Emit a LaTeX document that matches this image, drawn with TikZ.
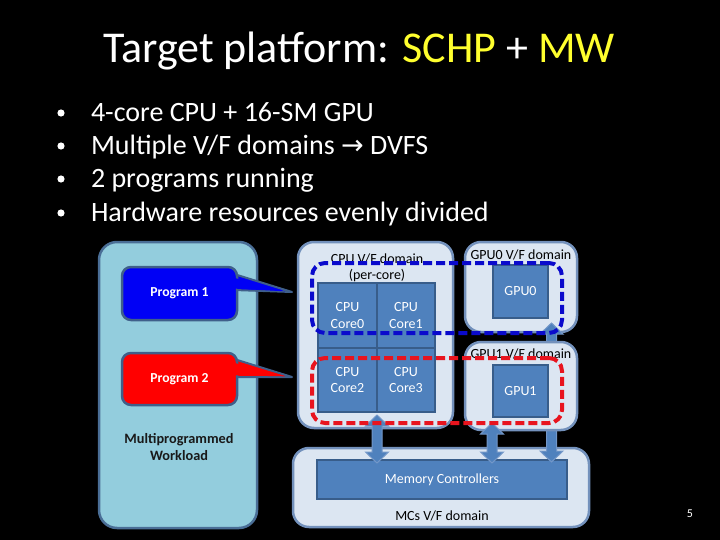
\documentclass[tikz,border=0pt]{standalone}
\usepackage{fontspec}
\setmainfont{Carlito}
\newfontfamily\dejavu{DejaVu Sans}
\usetikzlibrary{calc}
\definecolor{ttlyellow}{HTML}{FFFF2E}
\definecolor{workfill}{HTML}{93CDDD}
\definecolor{workdraw}{HTML}{4A6E96}
\definecolor{progblue}{HTML}{0000F5}
\definecolor{progred}{HTML}{FF0000}
\definecolor{progdraw}{HTML}{3F5F8A}
\definecolor{domfill}{HTML}{DCE6F2}
\definecolor{domdraw}{HTML}{7391BC}
\definecolor{unitfill}{HTML}{4F81BD}
\definecolor{unitdraw}{HTML}{385D8A}
\definecolor{dashblue}{HTML}{0A0ACC}
\definecolor{dashred}{HTML}{E8141E}
\definecolor{arrfill}{HTML}{4F81BD}
\definecolor{arrdraw}{HTML}{7397C8}
\newcommand\blockarr[2]{%
  \draw[arrstyle] let \p1=(#1), \p2=(#2) in
   (\x1,\y1) -- (\x1+11.5pt,\y1-11pt) -- (\x1+5pt,\y1-11pt) -- (\x1+5pt,\y2+11pt)
   -- (\x1+11.5pt,\y2+11pt) -- (\x1,\y2) -- (\x1-11.5pt,\y2+11pt) -- (\x1-5pt,\y2+11pt)
   -- (\x1-5pt,\y1-11pt) -- (\x1-11.5pt,\y1-11pt) -- cycle;}
\begin{document}
\begin{tikzpicture}[x=1pt,y=-1pt,
  every node/.style={inner sep=0pt, outer sep=0pt},
  dombox/.style={draw=domdraw, fill=domfill, line width=2.5pt, rounded corners=16pt},
  workbox/.style={draw=workdraw, fill=workfill, line width=2.5pt, rounded corners=18pt},
  progbox/.style={draw=progdraw, line width=2.5pt, rounded corners=9pt, text=white,
     font=\fontsize{13.7}{16}\selectfont\bfseries},
  unit/.style={draw=unitdraw, fill=unitfill, line width=1.5pt, text=white,
     align=center, font=\fontsize{14}{16.5}\selectfont},
  dashbox/.style={line width=4pt, dash pattern=on 9pt off 4pt, rounded corners=13pt},
  arrstyle/.style={fill=arrfill, draw=arrdraw, line width=1pt, line join=miter},
  lbl/.style={text=black, align=center, font=\fontsize{14}{16.5}\selectfont},
  ttl/.style={text=white, font=\fontsize{44}{50}\selectfont},
  bul/.style={text=white, font=\fontsize{28}{32}\selectfont}]
\fill[black] (0,0) rectangle (720,540);
\useasboundingbox (0,0) rectangle (720,540);

% title and bullets
\node[ttl, anchor=base] (title) at (359,63) {Target platform: \textcolor{ttlyellow}{SCHP} + \textcolor{ttlyellow}{MW}};
\foreach \yy/\nm in {113/d1,146/d2,179/d3,213/d4}
  \fill[white] (61,\yy) circle (3.6pt);
\node[bul, anchor=base west] (t1) at (91,122) {4-core CPU + 16-SM GPU};
\node[bul, anchor=base west] (t2) at (91,155) {Multiple V/F domains {\dejavu\fontsize{27}{30}\selectfont →} DVFS};
\node[bul, anchor=base west] (t3) at (91,188) {2 programs running};
\node[bul, anchor=base west] (t4) at (91,222) {Hardware resources evenly divided};

% workload
\node[workbox, minimum width=158pt, minimum height=286pt] (work) at (178,385) {};
\node[lbl, font=\fontsize{14.3}{17}\selectfont\bfseries, text=black!90] (worklbl) at (179,447.5) {Multiprogrammed\\Workload};

% domains
\node[dombox, minimum width=155pt, minimum height=186pt] (cpudom) at (375.5,335) {};
\node[dombox, minimum width=112pt, minimum height=90pt] (gpu0dom) at (521,287) {};
\node[dombox, minimum width=296pt, minimum height=79pt] (mcdom) at (441,487.5) {};
\node[unit, minimum width=250pt, minimum height=39pt] (mc) at (442,479.5) {};

% callouts
\coordinate (tip1) at (292,292);
\coordinate (tip2) at (292,377);
\filldraw[progblue, draw=progdraw, line width=2pt, line join=round] (234,274) -- (tip1) -- (234,290) -- cycle;
\filldraw[progred, draw=progdraw, line width=2pt, line join=round] (234,359) -- (tip2) -- (234,377) -- cycle;
\node[progbox, fill=progblue, minimum width=115pt, minimum height=53pt] (p1) at (179.5,293.5) {Program 1};
\node[progbox, fill=progred, minimum width=115pt, minimum height=52pt] (p2) at (179.5,379) {Program 2};
\fill[progblue] (229,276.5) -- (285,291.3) -- (229,288.3) -- cycle;
\fill[progred] (229,361.5) -- (285,376.3) -- (229,375.3) -- cycle;

% cores
\node[unit, minimum width=59pt, minimum height=65pt] (c0) at (347.5,315.5) {CPU\\Core0};
\node[unit, minimum width=58pt, minimum height=65pt] (c1) at (406,315.5) {CPU\\Core1};
\node[unit, minimum width=59pt, minimum height=64pt] (c2) at (347.5,380) {CPU\\Core2};
\node[unit, minimum width=58pt, minimum height=64pt] (c3) at (406,380) {CPU\\Core3};
\node[unit, minimum width=55pt, minimum height=53pt] (gpu0) at (520.5,291.5) {GPU0};

% arrow GPU0 <-> MC (partly hidden)
\coordinate (g0a) at (551.5,323);
\coordinate (g0b) at (551.5,462);
\blockarr{g0a}{g0b}

\node[dombox, minimum width=112pt, minimum height=88pt] (gpu1dom) at (521,386) {};
\node[unit, minimum width=55pt, minimum height=52pt] (gpu1) at (520.5,391) {GPU1};

% other arrows
\coordinate (ca) at (377,415);
\coordinate (cb) at (377,463);
\blockarr{ca}{cb}
\coordinate (g1a) at (492,423);
\coordinate (g1b) at (492,463);
\blockarr{g1a}{g1b}

% labels
\node[lbl, text=black] (cpulbl) at (377,268) {CPU V/F domain\\(per-core)};
\node[lbl] (g0lbl) at (521,255) {GPU0 V/F domain};
\node[lbl] (g1lbl) at (521,354) {GPU1 V/F domain};
\node[lbl, text=white] (mctxt) at (442,480) {Memory Controllers};
\node[lbl] (mclbl) at (442,515.5) {MCs V/F domain};

% dashed domains
\node[dashbox, draw=dashblue, minimum width=250pt, minimum height=70pt] (blued) at (437,298) {};
\node[dashbox, draw=dashred, minimum width=250pt, minimum height=65pt] (redd) at (437,390.5) {};

\node[text=white, font=\fontsize{12}{14}\selectfont] (pg) at (690,514) {5};
\end{tikzpicture}
\end{document}
